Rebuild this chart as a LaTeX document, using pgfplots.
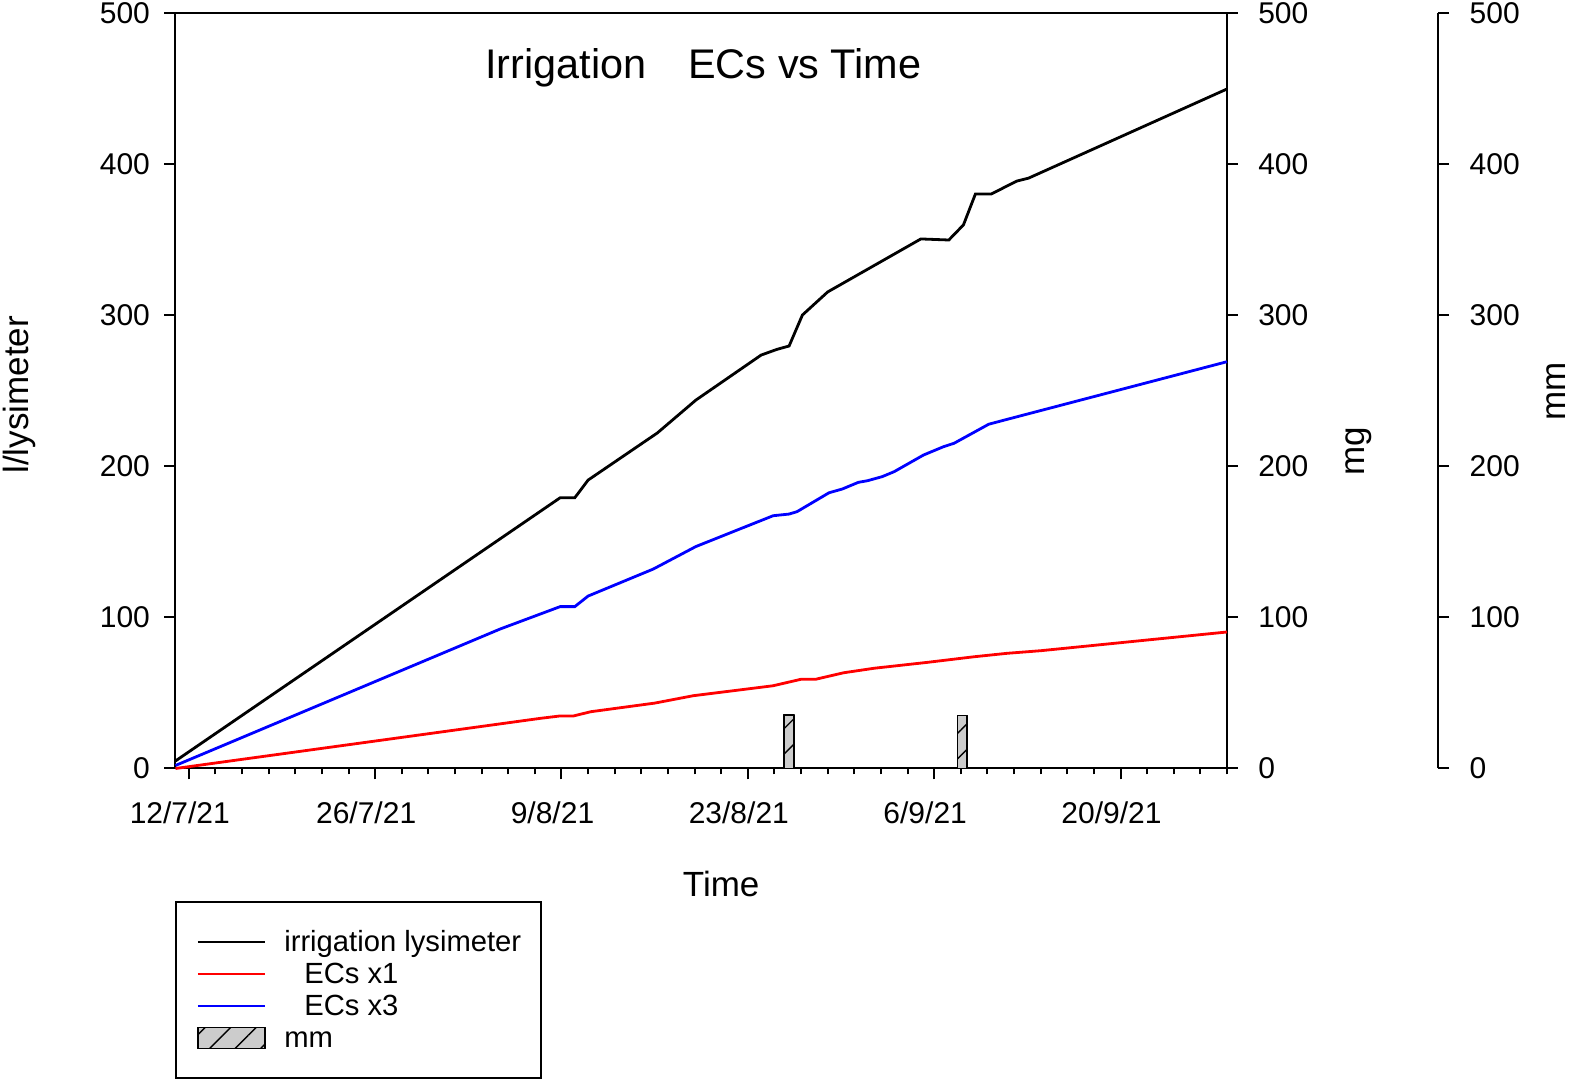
\documentclass[border=0pt]{standalone}
\usepackage{pgfplots}
\pgfplotsset{compat=1.18}
\usepackage{fontspec}
\setmainfont{Liberation Sans}
\usetikzlibrary{patterns.meta}
\pgfplotsset{
  lineleg/.style={legend image code/.code={\draw[##1] (0pt,0pt) -- (33.5pt,0pt);}},
  barleg/.style={legend image code/.code={\draw[##1] (0pt,-5.25pt) rectangle (33.5pt,5.25pt);}},
}
\begin{document}
\begin{tikzpicture}
\useasboundingbox (-87.75pt,-155.75pt) rectangle (699.75pt,384.25pt);
\pgfplotsset{
  every axis/.append style={
    scale only axis, width=525.75pt, height=377.5pt,
    xmin=-1, xmax=78, ymin=0, ymax=500,
    axis line style={line width=1pt},
    tick style={line width=1pt, black},
    tick align=outside,
    major tick length=5.5pt, minor tick length=3pt,
    ytick={0,100,...,500},
    /pgf/number format/assume math mode=true,
    tick label style={font=\fontsize{15}{18}\selectfont},
  }
}
% mg axis (right)
\begin{axis}[at={(0pt,0pt)}, anchor=south west,
  axis y line*=right, axis x line=none,
  yticklabel style={xshift=6.6pt},
]
\addplot[draw=none] coordinates {(0,0) (1,1)};
\end{axis}
% mm axis (far right)
\begin{axis}[at={(631.25pt,0pt)}, anchor=south east, width=1pt,
  xmin=0, xmax=1,
  axis y line*=right, axis x line=none,
  yticklabel style={xshift=6.8pt},
]
\addplot[draw=none] coordinates {(0,0) (1,1)};
\end{axis}
% main axis
\begin{axis}[at={(0pt,0pt)}, anchor=south west,
  xtick={0,14,28,42,56,70},
  xticklabels={12/7/21,26/7/21,9/8/21,23/8/21,6/9/21,20/9/21},
  minor xtick={2,4,...,78},
  xtick pos=left, ytick pos=left,
  xticklabel style={yshift=-7.5pt, xshift=-4.5pt},
  yticklabel style={xshift=-3.75pt},
  clip=false,
  legend cell align=left,
  legend style={at={(axis description cs:0,-0.1755)}, anchor=north west,
    draw=black, line width=1pt, fill=white,
    font=\fontsize{14.6}{16}\selectfont,
    inner xsep=10pt, inner ysep=12pt,
    column sep=9pt, row sep=0pt,
    nodes={inner sep=0pt, text height=12.5pt, text depth=3.5pt}},
]
\addplot[black, line width=1.4pt, lineleg] coordinates {
(-1,5) (27.9,179.3) (29.0,179.3) (30.0,191) (30.9,196.4) (35.2,222.2)
(38.1,244) (43.0,273.8) (44.2,277.6) (45.1,279.8) (46.1,300.3) (48.0,315.6)
(55.0,350.7) (57.1,350) (58.2,360) (59.1,380.5) (60.3,380.5) (62.2,389)
(63.1,391) (78,450)};
\addlegendentry{irrigation lysimeter}
\addplot[red, line width=1.4pt, lineleg] coordinates {
(-1,0) (26.4,33.2) (27.9,34.8) (28.9,34.8) (30.2,37.6) (35.0,43.3)
(37.9,48.2) (43.9,54.8) (46.0,59.1) (47.1,59.1) (49.2,63.4) (51.5,66.4)
(55.5,70.3) (59.0,74.0) (61.5,76.3) (64.0,78.0) (78,90.4)};
\addlegendentry{\hspace*{10pt}ECs x1}
\addplot[blue, line width=1.4pt, lineleg] coordinates {
(-1,2) (23.4,92.4) (27.9,107.2) (29.0,107.2) (30.0,114.2) (34.9,132.1)
(38.1,147.0) (43.9,167.4) (45.1,168.5) (45.7,170.1) (48.1,182.6) (49.1,185.1)
(50.3,189.5) (51.0,190.6) (52.1,193.3) (53.0,196.6) (55.2,207.6) (56.7,213.1)
(57.5,215.4) (60.1,228) (61.3,230.8) (78,269.4)};
\addlegendentry{\hspace*{10pt}ECs x3}
\addplot[ybar, bar width=0.72, fill=gray!40, draw=black, line width=0.8pt,
  line join=round,
  postaction={pattern={Lines[angle=45,distance=9pt,line width=0.7pt]}, pattern color=black},
  barleg]
  coordinates {(45.1,35.4) (58.1,35)};
\addlegendentry{mm}
\node[font=\fontsize{20.7}{24}\selectfont] at (axis description cs:0.502,0.928) {Irrigation\hspace{21pt}ECs vs Time};
\node[font=\fontsize{17.5}{20}\selectfont] at (axis description cs:0.519,-0.153) {Time};
\node[font=\fontsize{17.5}{20}\selectfont, rotate=90, inner sep=0pt] at (axis description cs:-0.1488,0.495) {l/lysimeter};
\node[font=\fontsize{17.5}{20}\selectfont, rotate=90, inner sep=0pt] at (axis description cs:1.1255,0.4199) {mg};
\node[font=\fontsize{17.5}{20}\selectfont, rotate=90, inner sep=0pt] at (axis description cs:1.313,0.4993) {mm};
\end{axis}
\end{tikzpicture}
\end{document}
